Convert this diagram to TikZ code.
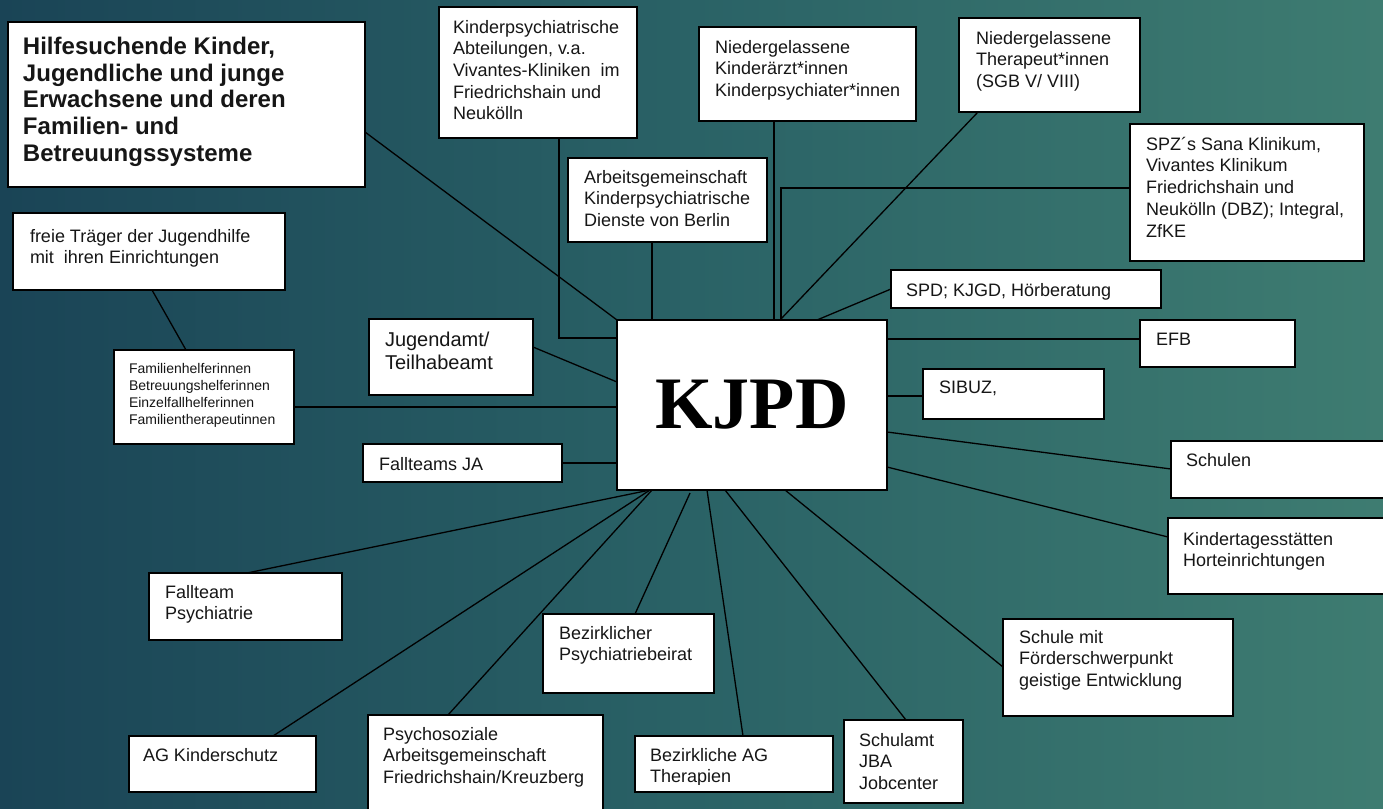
\documentclass[tikz,border=0pt]{standalone}
\usepackage{fontspec}
\setmainfont{Liberation Sans}
\newfontfamily\kjpdfont{Liberation Serif}
\usetikzlibrary{calc,fit}
\definecolor{bgL}{RGB}{26,68,86}
\definecolor{bgM}{RGB}{42,98,102}
\definecolor{bgR}{RGB}{62,124,113}
\definecolor{txt}{RGB}{22,22,22}
\tikzset{
  box/.style={draw=black, fill=white, line width=1.5pt, inner sep=0pt, outer sep=0pt},
  conn/.style={draw=black, line width=1.3pt},
  lbl/.style={anchor=north west, inner sep=0pt, outer sep=0pt, align=left, text=txt, font=\fontsize{18}{21.7}\selectfont},
  biglbl/.style={lbl, font=\fontsize{24}{26.7}\selectfont\bfseries},
  smalllbl/.style={lbl, font=\fontsize{14}{17}\selectfont},
  midlbl/.style={lbl, font=\fontsize{20}{23.3}\selectfont},
}
\begin{document}
\begin{tikzpicture}[x=1pt,y=-1pt]
\clip (0,0) rectangle (1383,808);
\shade[left color=bgL, right color=bgR, middle color=bgM] (0,0) rectangle (1383,808);

% boxes
\node[box, fit={(8,22)(365,187)}] (hilfe) {};
\node[box, fit={(439,7)(637,138)}] (kabt) {};
\node[box, fit={(699,27)(916,121)}] (nka) {};
\node[box, fit={(959,18)(1140,112)}] (nth) {};
\node[box, fit={(1130,124)(1364,261)}] (spz) {};
\node[box, fit={(568,158)(767,242)}] (arb) {};
\node[box, fit={(13,213)(285,290)}] (frei) {};
\node[box, fit={(114,350)(294,444)}] (fam) {};
\node[box, fit={(369,319)(533,395)}] (jug) {};
\node[box, fit={(617,320)(887,490)}] (kjpd) {};
\node[box, fit={(891,270)(1161,308)}] (spd) {};
\node[box, fit={(1140,320)(1295,367)}] (efb) {};
\node[box, fit={(923,369)(1104,419)}] (sibuz) {};
\node[box, fit={(363,444)(562,482)}] (fja) {};
\node[box, fit={(1171,441)(1395,498)}] (schulen) {};
\node[box, fit={(1168,518)(1395,594)}] (kita) {};
\node[box, fit={(149,573)(342,640)}] (ftp) {};
\node[box, fit={(543,614)(714,693)}] (beirat) {};
\node[box, fit={(1003,619)(1233,716)}] (foerder) {};
\node[box, fit={(129,736)(316,792)}] (agk) {};
\node[box, fit={(368,715)(603,825)}] (psy) {};
\node[box, fit={(635,736)(833,792)}] (bezag) {};
\node[box, fit={(844,720)(963,803)}] (schulamt) {};

% connectors
\draw[conn] ($(hilfe.north east)+(0,110)$) -- (kjpd.north west);
\draw[conn] ($(kabt.south west)+(120,0)$) |- ($(kjpd.north west)+(0,18)$);
\draw[conn] ($(arb.south west)+(84,0)$) -- ($(kjpd.north west)+(35,0)$);
\draw[conn] ($(nka.south west)+(75,0)$) -- ($(kjpd.north west)+(157,0)$);
\draw[conn] ($(nth.south west)+(19,0)$) -- ($(kjpd.north west)+(163,0)$);
\draw[conn] ($(spz.north west)+(0,64)$) -| ($(kjpd.north west)+(164,0)$);
\draw[conn] (spd.west) -- ($(kjpd.north west)+(200,0)$);
\draw[conn] ($(efb.north west)+(0,19)$) -- ($(kjpd.north east)+(0,19)$);
\draw[conn] ($(sibuz.north west)+(0,27)$) -- ($(kjpd.north east)+(0,76)$);
\draw[conn] ($(schulen.north west)+(0,28)$) -- ($(kjpd.north east)+(0,112)$);
\draw[conn] ($(kita.north west)+(0,19)$) -- ($(kjpd.north east)+(0,147)$);
\draw[conn] ($(foerder.north west)+(0,48)$) -- ($(kjpd.south west)+(168,0)$);
\draw[conn] ($(schulamt.north west)+(62,0)$) -- ($(kjpd.south west)+(108,0)$);
\draw[conn] ($(bezag.north west)+(108,0)$) -- ($(kjpd.south west)+(90,0)$);
\draw[conn] ($(beirat.north west)+(92,0)$) -- ($(kjpd.south west)+(73,3)$);
\draw[conn] ($(psy.north west)+(80,0)$) -- ($(kjpd.south west)+(35,0)$);
\draw[conn] ($(agk.north west)+(144,0)$) -- ($(kjpd.south west)+(33,0)$);
\draw[conn] ($(ftp.north west)+(98,0)$) -- ($(kjpd.south west)+(33,0)$);
\draw[conn] (fja.east) -- ($(kjpd.north west)+(0,143)$);
\draw[conn] ($(fam.north east)+(0,57)$) -- ($(kjpd.north west)+(0,87)$);
\draw[conn] ($(jug.north east)+(0,28)$) -- ($(kjpd.north west)+(0,62)$);
\draw[conn] ($(frei.south west)+(139,0)$) -- ($(fam.north west)+(72,0)$);

% labels
\node[biglbl] (hilfe-t) at (23,37) {Hilfesuchende Kinder,\\Jugendliche und junge\\Erwachsene und deren\\Familien- und\\Betreuungssysteme};
\node[lbl] (kabt-t) at (453,20) {Kinderpsychiatrische\\Abteilungen, v.a.\\Vivantes-Kliniken\ \ im\\Friedrichshain und\\Neukölln};
\node[lbl] (nka-t) at (715,40) {Niedergelassene\\Kinderärzt*innen\\Kinderpsychiater*innen};
\node[lbl] (nth-t) at (976,31) {Niedergelassene\\Therapeut*innen\\(SGB V/ VIII)};
\node[lbl] (spz-t) at (1146,137) {SPZ´s Sana Klinikum,\\Vivantes Klinikum\\Friedrichshain und\\Neukölln (DBZ); Integral,\\ZfKE};
\node[lbl] (arb-t) at (584,170) {Arbeitsgemeinschaft\\Kinderpsychiatrische\\Dienste von Berlin};
\node[lbl] (frei-t) at (30,229) {freie Träger der Jugendhilfe\\mit\ \ ihren Einrichtungen};
\node[smalllbl] (fam-t) at (129,363) {Familienhelferinnen\\Betreuungshelferinnen\\Einzelfallhelferinnen\\Familientherapeutinnen};
\node[midlbl] (jug-t) at (385,332) {Jugendamt/\\Teilhabeamt};
\node[lbl] (spd-t) at (906,283) {SPD; KJGD, Hörberatung};
\node[lbl] (efb-t) at (1156,333) {EFB};
\node[lbl] (sibuz-t) at (939,381) {SIBUZ,};
\node[lbl] (fja-t) at (379,457) {Fallteams JA};
\node[lbl] (schulen-t) at (1186,453) {Schulen};
\node[lbl] (kita-t) at (1183,532) {Kindertagesstätten\\Horteinrichtungen};
\node[lbl] (ftp-t) at (165,585) {Fallteam\\Psychiatrie};
\node[lbl] (beirat-t) at (559,626) {Bezirklicher\\Psychiatriebeirat};
\node[lbl] (foerder-t) at (1019,630) {Schule mit\\Förderschwerpunkt\\geistige Entwicklung};
\node[lbl] (agk-t) at (143,748) {AG Kinderschutz};
\node[lbl] (psy-t) at (383,727) {Psychosoziale\\Arbeitsgemeinschaft\\Friedrichshain/Kreuzberg};
\begin{scope}
\clip (635,700) rectangle (833,784);
\node[lbl] (bezag-t) at (650,748) {Bezirkliche AG\\Therapien};
\end{scope}
\node[lbl] (schulamt-t) at (859,733) {Schulamt\\JBA\\Jobcenter};
\node[anchor=base, inner sep=0pt, font=\kjpdfont\bfseries\fontsize{74}{80}\selectfont] (kjpd-t) at ($(kjpd.north)+(0,108)$) {KJPD};
\end{tikzpicture}
\end{document}
